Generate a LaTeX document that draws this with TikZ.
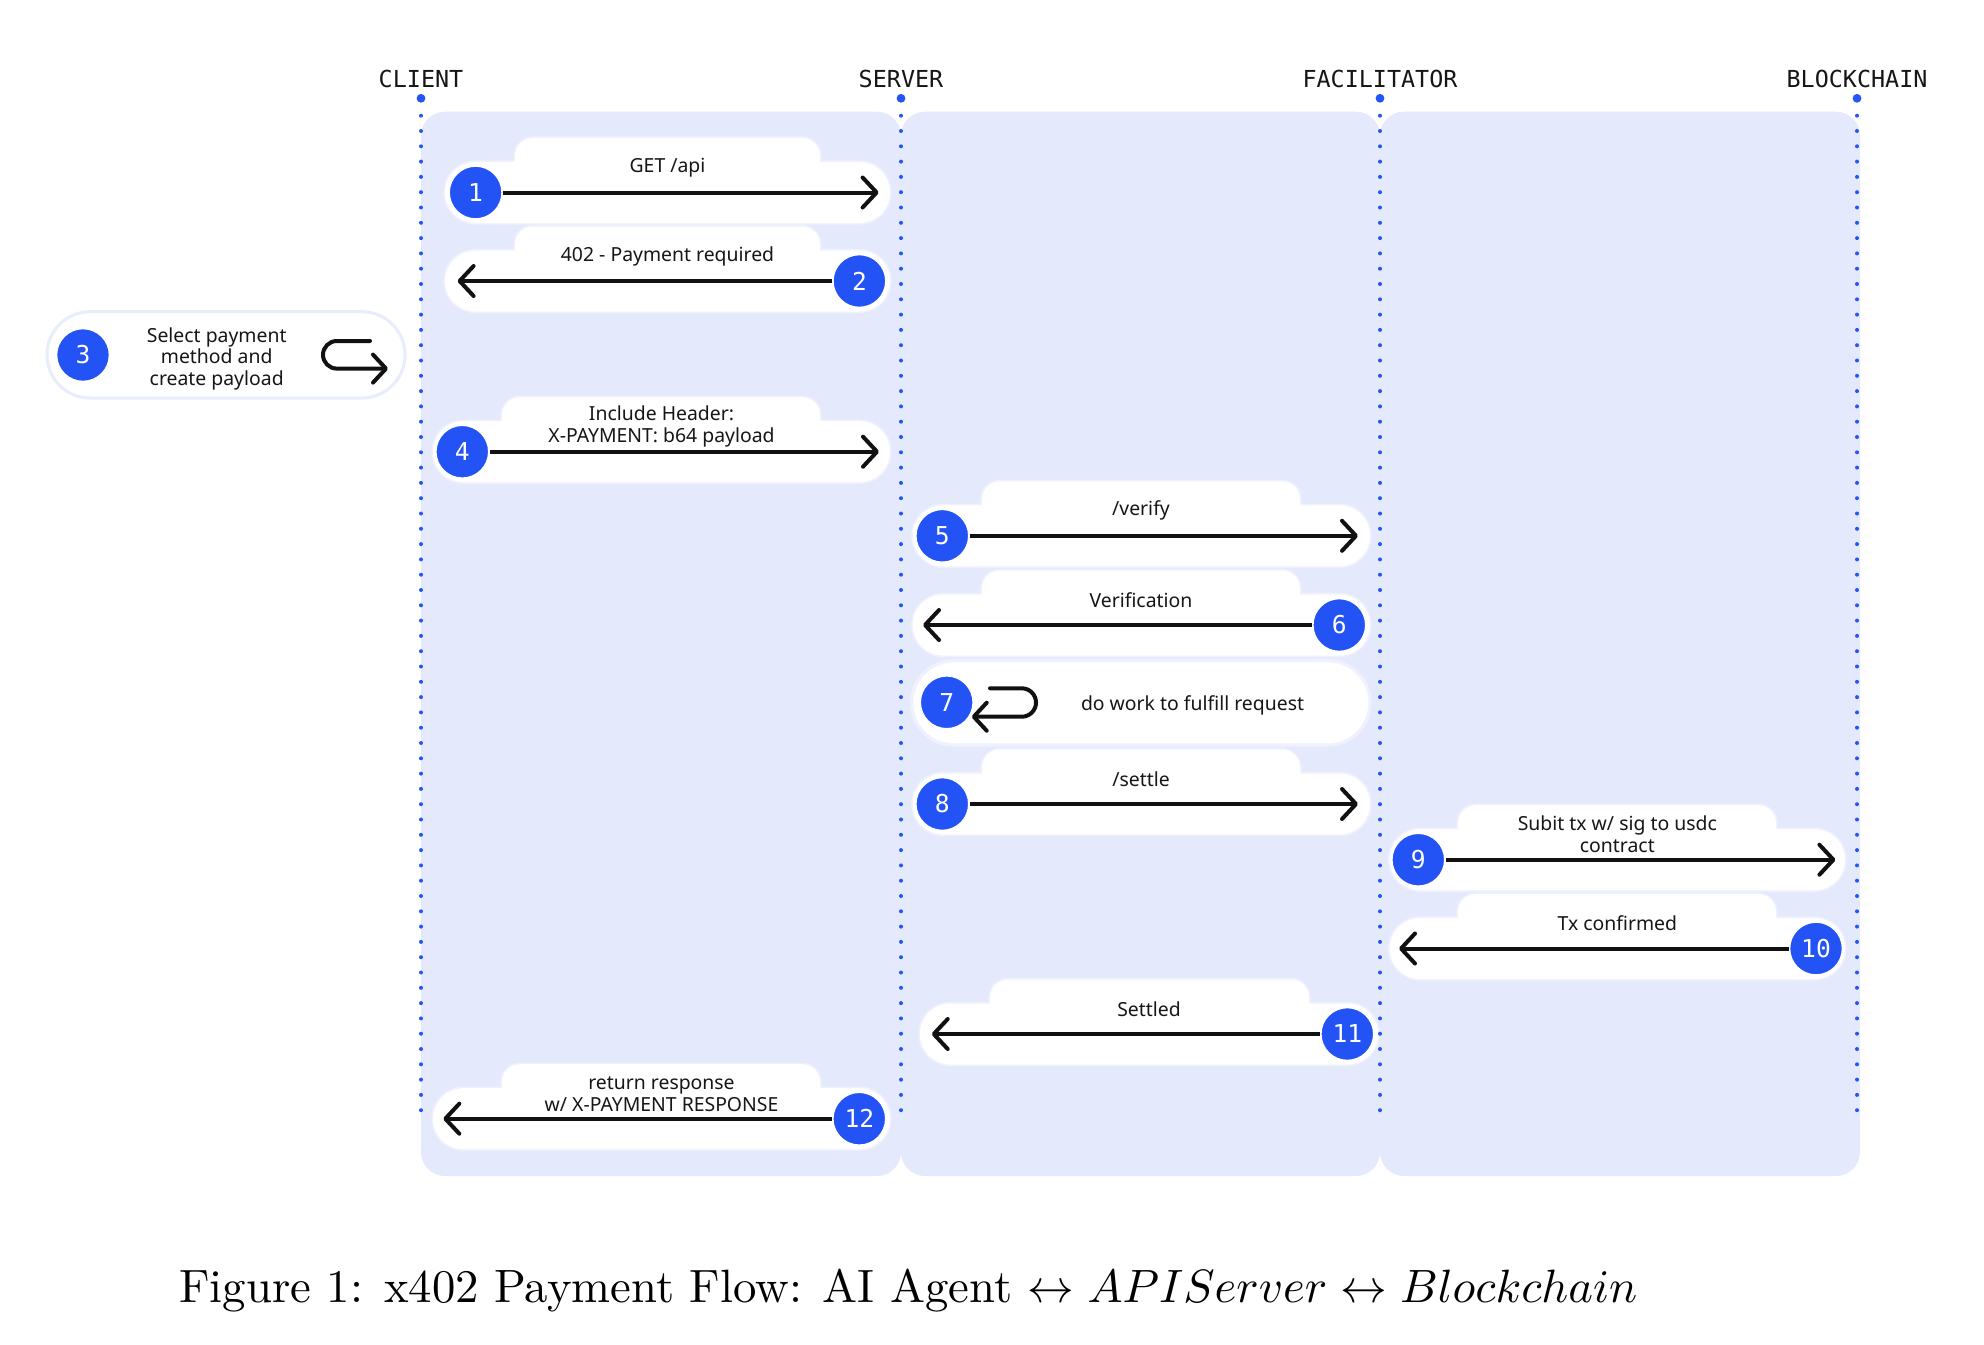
\documentclass[tikz,border=0pt]{standalone}
\usepackage{fontspec}
\usepackage{graphicx}
\usetikzlibrary{arrows.meta}
\newfontfamily\uifont{Noto Sans}
\newfontfamily\monofont{DejaVu Sans Mono}
\definecolor{lanecol}{RGB}{228,234,252}
\definecolor{halocol}{RGB}{239,242,254}
\definecolor{halothree}{RGB}{232,237,252}
\definecolor{numblue}{RGB}{35,83,245}
\definecolor{dotblue}{RGB}{36,86,246}
\definecolor{textcol}{RGB}{22,22,22}
\definecolor{arrowcol}{RGB}{17,17,17}
\newcommand\msgbg[5]{%
  \path[draw=halocol,line width=1.6pt,rounded corners=9pt] (#4,#1-54.5) rectangle (#5,#1);
  \path[draw=halocol,line width=1.6pt,rounded corners=15.25pt] (#2,#1-30.5) rectangle (#3,#1+30.5);
  \path[fill=white,rounded corners=9pt] (#4,#1-54.5) rectangle (#5,#1);
  \path[fill=white,rounded corners=15.25pt] (#2,#1-30.5) rectangle (#3,#1+30.5);
}
\begin{document}
\begin{tikzpicture}[x=0.5pt,y=-0.5pt,
  num/.style={circle,fill=numblue,draw=white,line width=0.8pt,minimum size=26.5pt,inner sep=0pt,text=white,font=\monofont\fontsize{12.3}{14}\selectfont},
  lbl/.style={font=\uifont\fontsize{9.7}{11}\selectfont,align=center,text=textcol,inner sep=0pt},
  head/.style={font=\monofont\fontsize{11.7}{13}\selectfont,text=textcol,inner sep=0pt},
  topdot/.style={circle,fill=dotblue,minimum size=4.4pt,inner sep=0pt},
  lifeline/.style={draw=dotblue,line width=2pt,line cap=round,dash pattern=on 0pt off 7.65pt},
  msgarrow/.style={draw=arrowcol,line width=2pt,-{Straight Barb[length=7pt,width=15pt,line cap=round,line join=round]}},
  iconarrow/.style={draw=arrowcol,line width=2pt,line cap=round,-{Straight Barb[length=6.5pt,width=14pt,line cap=round,line join=round]}}
]
\useasboundingbox[fill=white] (0,0) rectangle (1984,1344);

% lanes
\fill[lanecol,rounded corners=12pt] (421,111.7) rectangle (901,1176);
\fill[lanecol,rounded corners=12pt] (901,111.7) rectangle (1380,1176);
\fill[lanecol,rounded corners=12pt] (1380,111.7) rectangle (1860,1176);

% message backgrounds
\msgbg{192.5}{445}{890}{515}{820}
\msgbg{281}{445}{890}{515}{820}
\msgbg{451.7}{433}{890}{502}{820}
\msgbg{535.8}{912.7}{1370}{982}{1300}
\msgbg{625}{912.7}{1370}{982}{1300}
\msgbg{804}{912.7}{1370}{982}{1300}
\msgbg{859.7}{1389.6}{1845}{1458}{1776}
\msgbg{948.5}{1389.6}{1845}{1458}{1776}
\msgbg{1034}{920}{1378}{990}{1309}
\msgbg{1118.7}{433}{890}{502}{820}
\path[draw=halocol,line width=1.6pt,fill=white,rounded corners=21pt] (911.7,660.7) rectangle (1370,745);
\path[draw=halothree,line width=1.5pt,fill=white,rounded corners=21.5pt] (47,311.7) rectangle (405,398);

% headers and lifelines
\node[head] (client) at (421,79) {CLIENT};
\node[head] (server) at (901,79) {SERVER};
\node[head] (facil) at (1380,79) {FACILITATOR};
\node[head] (chain) at (1857,79) {BLOCKCHAIN};
\node[topdot] (cdot) at (421,98.3) {};
\node[topdot] (sdot) at (901,98.3) {};
\node[topdot] (fdot) at (1380,98.3) {};
\node[topdot] (bdot) at (1857,98.3) {};
\coordinate (cs) at (421,115.7);  \coordinate (ce) at (421,1111);
\coordinate (ss) at (901,115.7);  \coordinate (se) at (901,1111);
\coordinate (fs) at (1380,115.7); \coordinate (fe) at (1380,1111);
\coordinate (bs) at (1857,115.7); \coordinate (be) at (1857,1111);
\draw[lifeline] (cs) -- (ce);
\draw[lifeline] (ss) -- (se);
\draw[lifeline] (fs) -- (fe);
\draw[lifeline] (bs) -- (be);

% icons (self loops)
\draw[iconarrow,rounded corners=6.9pt] (370,341) -- (323,341) -- (323,368.6) -- (388,368.6);
\draw[iconarrow,rounded corners=7.1pt] (990,688.3) -- (1036,688.3) -- (1036,716.7) -- (971.7,716.7);

% messages
\node[num] (n1) at (475.6,192.5) {1}; \coordinate (t1) at (878.6,192.5);
\draw[msgarrow] (n1) -- (t1);
\node[lbl] (l1) at (667.5,167.5) {GET /api};

\node[num] (n2) at (859.4,281) {2}; \coordinate (t2) at (457.6,281);
\draw[msgarrow] (n2) -- (t2);
\node[lbl] (l2) at (667.5,256) {402 - Payment required};

\node[num] (n3) at (83,355) {3};
\node[lbl,font=\uifont\fontsize{9.7}{10.75}\selectfont] (l3) at (216.7,358.5) {Select payment\\method and\\create payload};

\node[num] (n4) at (462.3,451.7) {4}; \coordinate (t4) at (879,451.7);
\draw[msgarrow] (n4) -- (t4);
\node[lbl] (l4) at (661.5,426.7) {Include Header:\\X-PAYMENT: b64 payload};

\node[num] (n5) at (942.3,535.8) {5}; \coordinate (t5) at (1358,535.8);
\draw[msgarrow] (n5) -- (t5);
\node[lbl] (l5) at (1141,510.8) {/verify};

\node[num] (n6) at (1339.3,625) {6}; \coordinate (t6) at (923,625);
\draw[msgarrow] (n6) -- (t6);
\node[lbl] (l6) at (1141,600) {Verification};

\node[num] (n7) at (946.7,702.3) {7};
\node[lbl] (l7) at (1192.5,705) {do work to fulfill request};

\node[num] (n8) at (942.3,804) {8}; \coordinate (t8) at (1358,804);
\draw[msgarrow] (n8) -- (t8);
\node[lbl] (l8) at (1141,779) {/settle};

\node[num] (n9) at (1418.3,859.7) {9}; \coordinate (t9) at (1835.4,859.7);
\draw[msgarrow] (n9) -- (t9);
\node[lbl] (l9) at (1617.3,834.7) {Subit tx w/ sig to usdc\\contract};

\node[num] (n10) at (1816,948.5) {10}; \coordinate (t10) at (1399,948.5);
\draw[msgarrow] (n10) -- (t10);
\node[lbl] (l10) at (1617.3,923.5) {Tx confirmed};

\node[num] (n11) at (1347.3,1034) {11}; \coordinate (t11) at (931.7,1034);
\draw[msgarrow] (n11) -- (t11);
\node[lbl] (l11) at (1149,1009) {Settled};

\node[num] (n12) at (859.3,1118.7) {12}; \coordinate (t12) at (443.3,1118.7);
\draw[msgarrow] (n12) -- (t12);
\node[lbl] (l12) at (661.5,1093.7) {return response\\w/ X-PAYMENT RESPONSE};

% caption
\node[anchor=base west,inner sep=0pt] (cap) at (179,1302) {\resizebox{729pt}{!}{Figure 1: x402 Payment Flow: AI Agent $\leftrightarrow APIServer \leftrightarrow Blockchain$}};
\end{tikzpicture}
\end{document}
